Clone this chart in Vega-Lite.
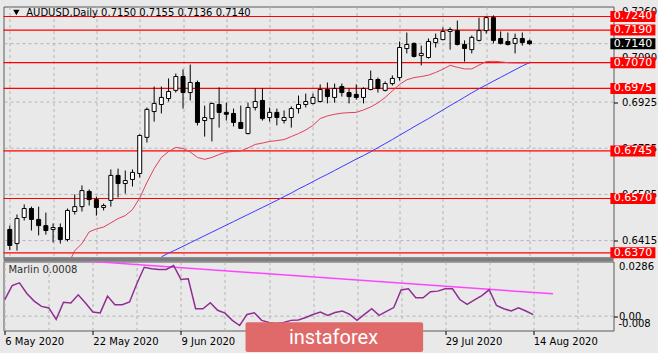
{
"$schema":"https://vega.github.io/schema/vega-lite/v6.json",
"padding":{"left":1.5,"top":5.5,"right":0,"bottom":0},
"background":"#e9e9e9",
"spacing":4,
"bounds":"flush",
"config":{"view":{"stroke":"#5a5a5a","fill":"#e9e9e9"},"axis":{"labelFont":"DejaVu Sans","labelFontSize":10,"labelColor":"#000000","tickColor":"#000000","domain":false,"title":null,"labelOverlap":false}},
"datasets":{
"bars":[
{"i":0,"o":0.6456,"h":0.6470,"l":0.6380,"c":0.6397,"m":0.0087},
{"i":1,"o":0.6404,"h":0.6511,"l":0.6378,"c":0.6496,"m":0.0160},
{"i":2,"o":0.6500,"h":0.6548,"l":0.6489,"c":0.6533,"m":0.0174},
{"i":3,"o":0.6533,"h":0.6540,"l":0.6452,"c":0.6493,"m":0.0119},
{"i":4,"o":0.6493,"h":0.6540,"l":0.6434,"c":0.6470,"m":0.0079},
{"i":5,"o":0.6470,"h":0.6518,"l":0.6437,"c":0.6452,"m":0.0051},
{"i":6,"o":0.6456,"h":0.6478,"l":0.6408,"c":0.6463,"m":0.0043},
{"i":7,"o":0.6463,"h":0.6478,"l":0.6404,"c":0.6419,"m":-0.0017},
{"i":8,"o":0.6419,"h":0.6533,"l":0.6412,"c":0.6526,"m":0.0073,"ma":0.6323},
{"i":9,"o":0.6522,"h":0.6585,"l":0.6511,"c":0.6540,"m":0.0069,"ma":0.6378},
{"i":10,"o":0.6540,"h":0.6618,"l":0.6522,"c":0.6599,"m":0.0112,"ma":0.6404},
{"i":11,"o":0.6596,"h":0.6603,"l":0.6544,"c":0.6566,"m":0.0069,"ma":0.6447},
{"i":12,"o":0.6566,"h":0.6577,"l":0.6507,"c":0.6537,"m":0.0022,"ma":0.6458},
{"i":13,"o":0.6537,"h":0.6551,"l":0.6526,"c":0.6544,"m":0.0017,"ma":0.6465},
{"i":14,"o":0.6563,"h":0.6677,"l":0.6540,"c":0.6655,"m":0.0105,"ma":0.6480},
{"i":15,"o":0.6655,"h":0.6680,"l":0.6574,"c":0.6625,"m":0.0060,"ma":0.6496},
{"i":16,"o":0.6625,"h":0.6673,"l":0.6588,"c":0.6636,"m":0.0060,"ma":0.6507},
{"i":17,"o":0.6640,"h":0.6677,"l":0.6614,"c":0.6666,"m":0.0074,"ma":0.6529},
{"i":18,"o":0.6662,"h":0.6806,"l":0.6647,"c":0.6802,"m":0.0171,"ma":0.6572},
{"i":19,"o":0.6795,"h":0.6905,"l":0.6776,"c":0.6898,"m":0.0256,"ma":0.6629},
{"i":20,"o":0.6890,"h":0.6982,"l":0.6853,"c":0.6920,"m":0.0248,"ma":0.6680},
{"i":21,"o":0.6916,"h":0.6982,"l":0.6883,"c":0.6942,"m":0.0244,"ma":0.6721,"mb":0.6355},
{"i":22,"o":0.6938,"h":0.7012,"l":0.6927,"c":0.6964,"m":0.0244,"ma":0.6743,"mb":0.6369},
{"i":23,"o":0.6968,"h":0.7030,"l":0.6960,"c":0.7019,"m":0.0265,"ma":0.6758,"mb":0.6381},
{"i":24,"o":0.7019,"h":0.7045,"l":0.6901,"c":0.6960,"m":0.0192,"ma":0.6754,"mb":0.6394},
{"i":25,"o":0.6960,"h":0.7063,"l":0.6931,"c":0.6997,"m":0.0196,"ma":0.6741,"mb":0.6407},
{"i":26,"o":0.6997,"h":0.7004,"l":0.6839,"c":0.6850,"m":0.0039,"ma":0.6721,"mb":0.6420},
{"i":27,"o":0.6857,"h":0.6912,"l":0.6798,"c":0.6868,"m":0.0039,"ma":0.6714,"mb":0.6433},
{"i":28,"o":0.6864,"h":0.6923,"l":0.6780,"c":0.6920,"m":0.0070,"ma":0.6721,"mb":0.6446},
{"i":29,"o":0.6916,"h":0.6979,"l":0.6831,"c":0.6887,"m":0.0031,"ma":0.6732,"mb":0.6459},
{"i":30,"o":0.6887,"h":0.6923,"l":0.6857,"c":0.6880,"m":0.0016,"ma":0.6741,"mb":0.6472},
{"i":31,"o":0.6883,"h":0.6901,"l":0.6835,"c":0.6850,"m":-0.0022,"ma":0.6743,"mb":0.6485},
{"i":32,"o":0.6850,"h":0.6912,"l":0.6826,"c":0.6828,"m":-0.0049,"ma":0.6745,"mb":0.6498},
{"i":33,"o":0.6809,"h":0.6923,"l":0.6806,"c":0.6905,"m":0.0009,"ma":0.6756,"mb":0.6511},
{"i":34,"o":0.6905,"h":0.6975,"l":0.6894,"c":0.6927,"m":0.0018,"ma":0.6769,"mb":0.6524},
{"i":35,"o":0.6931,"h":0.6975,"l":0.6857,"c":0.6864,"m":-0.0022,"ma":0.6774,"mb":0.6537},
{"i":36,"o":0.6868,"h":0.6905,"l":0.6853,"c":0.6887,"m":-0.0033,"ma":0.6780,"mb":0.6550},
{"i":37,"o":0.6887,"h":0.6901,"l":0.6839,"c":0.6868,"m":-0.0038,"ma":0.6783,"mb":0.6563},
{"i":38,"o":0.6857,"h":0.6894,"l":0.6846,"c":0.6868,"m":-0.0033,"ma":0.6787,"mb":0.6577},
{"i":39,"o":0.6868,"h":0.6909,"l":0.6831,"c":0.6901,"m":-0.0022,"ma":0.6798,"mb":0.6590},
{"i":40,"o":0.6901,"h":0.6949,"l":0.6883,"c":0.6916,"m":-0.0020,"ma":0.6809,"mb":0.6605},
{"i":41,"o":0.6916,"h":0.6956,"l":0.6905,"c":0.6927,"m":-0.0007,"ma":0.6822,"mb":0.6618},
{"i":42,"o":0.6920,"h":0.6956,"l":0.6916,"c":0.6942,"m":0.0009,"ma":0.6839,"mb":0.6632},
{"i":43,"o":0.6927,"h":0.6990,"l":0.6923,"c":0.6971,"m":0.0021,"ma":0.6864,"mb":0.6646},
{"i":44,"o":0.6971,"h":0.6997,"l":0.6920,"c":0.6945,"m":0.0004,"ma":0.6874,"mb":0.6659},
{"i":45,"o":0.6942,"h":0.6993,"l":0.6923,"c":0.6975,"m":0.0019,"ma":0.6880,"mb":0.6673},
{"i":46,"o":0.6982,"h":0.6993,"l":0.6945,"c":0.6960,"m":0.0027,"ma":0.6884,"mb":0.6687},
{"i":47,"o":0.6960,"h":0.6975,"l":0.6920,"c":0.6945,"m":0.0009,"ma":0.6886,"mb":0.6701},
{"i":48,"o":0.6953,"h":0.6990,"l":0.6934,"c":0.6942,"m":-0.0022,"ma":0.6887,"mb":0.6715},
{"i":49,"o":0.6942,"h":0.6979,"l":0.6920,"c":0.6975,"m":0.0009,"ma":0.6896,"mb":0.6728},
{"i":50,"o":0.6971,"h":0.7041,"l":0.6968,"c":0.7008,"m":0.0039,"ma":0.6907,"mb":0.6742},
{"i":51,"o":0.7008,"h":0.7015,"l":0.6960,"c":0.6975,"m":0.0004,"ma":0.6922,"mb":0.6757},
{"i":52,"o":0.6968,"h":0.7001,"l":0.6964,"c":0.6993,"m":0.0025,"ma":0.6942,"mb":0.6772},
{"i":53,"o":0.6993,"h":0.7023,"l":0.6986,"c":0.7012,"m":0.0045,"ma":0.6966,"mb":0.6787},
{"i":54,"o":0.7015,"h":0.7148,"l":0.7004,"c":0.7126,"m":0.0137,"ma":0.6990,"mb":0.6803},
{"i":55,"o":0.7122,"h":0.7181,"l":0.7104,"c":0.7137,"m":0.0143,"ma":0.7007,"mb":0.6818},
{"i":56,"o":0.7141,"h":0.7144,"l":0.7089,"c":0.7093,"m":0.0096,"ma":0.7015,"mb":0.6834},
{"i":57,"o":0.7096,"h":0.7133,"l":0.7060,"c":0.7104,"m":0.0096,"ma":0.7019,"mb":0.6849},
{"i":58,"o":0.7089,"h":0.7159,"l":0.7085,"c":0.7148,"m":0.0128,"ma":0.7024,"mb":0.6864},
{"i":59,"o":0.7144,"h":0.7177,"l":0.7126,"c":0.7159,"m":0.0131,"ma":0.7034,"mb":0.6880},
{"i":60,"o":0.7155,"h":0.7200,"l":0.7152,"c":0.7185,"m":0.0143,"ma":0.7046,"mb":0.6896},
{"i":61,"o":0.7185,"h":0.7200,"l":0.7118,"c":0.7192,"m":0.0143,"ma":0.7060,"mb":0.6912},
{"i":62,"o":0.7188,"h":0.7225,"l":0.7133,"c":0.7137,"m":0.0087,"ma":0.7053,"mb":0.6927},
{"i":63,"o":0.7137,"h":0.7152,"l":0.7074,"c":0.7122,"m":0.0062,"ma":0.7047,"mb":0.6943},
{"i":64,"o":0.7118,"h":0.7170,"l":0.7104,"c":0.7163,"m":0.0085,"ma":0.7047,"mb":0.6959},
{"i":65,"o":0.7152,"h":0.7236,"l":0.7148,"c":0.7188,"m":0.0108,"ma":0.7061,"mb":0.6974},
{"i":66,"o":0.7188,"h":0.7240,"l":0.7177,"c":0.7236,"m":0.0138,"ma":0.7074,"mb":0.6988},
{"i":67,"o":0.7236,"h":0.7244,"l":0.7141,"c":0.7152,"m":0.0056,"ma":0.7075,"mb":0.7002},
{"i":68,"o":0.7159,"h":0.7185,"l":0.7137,"c":0.7141,"m":0.0039,"ma":0.7073,"mb":0.7016},
{"i":69,"o":0.7148,"h":0.7181,"l":0.7133,"c":0.7137,"m":0.0027,"ma":0.7070,"mb":0.7030},
{"i":70,"o":0.7141,"h":0.7177,"l":0.7104,"c":0.7159,"m":0.0044,"ma":0.7069,"mb":0.7044},
{"i":71,"o":0.7159,"h":0.7181,"l":0.7133,"c":0.7144,"m":0.0027,"ma":0.7069,"mb":0.7058},
{"i":72,"o":0.7150,"h":0.7155,"l":0.7136,"c":0.7140,"m":0.0008,"ma":0.7069,"mb":0.7070}
],
"levels":[{"p":0.724,"k":"r"},{"p":0.719,"k":"r"},{"p":0.707,"k":"r"},{"p":0.6975,"k":"r"},{"p":0.6745,"k":"r"},{"p":0.657,"k":"r"},{"p":0.637,"k":"r"},{"p":0.714,"k":"b"}],
"hgrid":[{"p":0.6415},{"p":0.6585},{"p":0.6755},{"p":0.6925},{"p":0.714}],
"trend":[{"i":10.2,"v":0.0291},{"i":74.7,"v":0.0117}]
},
"vconcat":[
{
"width":610,"height":251,
"layer":[
{"data":{"name":"hgrid"},"mark":{"type":"rule","stroke":"#b4b4b4","strokeDash":[3,3],"strokeWidth":1},
 "encoding":{"y":{"field":"p","type":"quantitative","scale":{"domain":[0.63527,0.72768],"nice":false,"zero":false},
  "axis":{"orient":"right","values":[0.6415,0.6585,0.6755,0.6925,0.709,0.726],"format":".4f","grid":false,"ticks":true,"tickSize":4,"labelPadding":4,"labelOverlap":false,"labelBound":false}}}},
{"data":{"name":"levels"},"transform":[{"filter":"datum.k == 'r'"}],"mark":{"type":"rule","stroke":"#ff0000","strokeWidth":1.2},
 "encoding":{"y":{"field":"p","type":"quantitative","scale":{"domain":[0.63527,0.72768],"nice":false,"zero":false}}}},
{"data":{"name":"bars"},"mark":{"type":"line","stroke":"#3a3aff","strokeWidth":1,"clip":true},
 "encoding":{"x":{"field":"i","type":"quantitative","scale":{"domain":[-0.177,82.94],"nice":false,"zero":false},
  "axis":{"values":[0,6,12,18,24,30,36,42,48,54,60,66,72,78],"grid":true,"gridColor":"#b4b4b4","gridDash":[3,3],"labels":false,"ticks":false}},
  "y":{"field":"mb","type":"quantitative","scale":{"domain":[0.63527,0.72768],"nice":false,"zero":false}}}},
{"data":{"name":"bars"},"mark":{"type":"line","stroke":"#e0405c","strokeWidth":1,"clip":true},
 "encoding":{"x":{"field":"i","type":"quantitative","scale":{"domain":[-0.177,82.94],"nice":false,"zero":false}},
  "y":{"field":"ma","type":"quantitative","scale":{"domain":[0.63527,0.72768],"nice":false,"zero":false}}}},
{"data":{"name":"bars"},"mark":{"type":"rule","stroke":"#000000","strokeWidth":1,"clip":true},
 "encoding":{"x":{"field":"i","type":"quantitative","scale":{"domain":[-0.177,82.94],"nice":false,"zero":false}},
  "y":{"field":"l","type":"quantitative","scale":{"domain":[0.63527,0.72768],"nice":false,"zero":false}},"y2":{"field":"h"}}},
{"data":{"name":"bars"},"mark":{"type":"bar","size":4,"stroke":"#000000","strokeWidth":1,"clip":true},
 "encoding":{"x":{"field":"i","type":"quantitative","scale":{"domain":[-0.177,82.94],"nice":false,"zero":false}},
  "y":{"field":"o","type":"quantitative","scale":{"domain":[0.63527,0.72768],"nice":false,"zero":false}},"y2":{"field":"c"},
  "fill":{"condition":{"test":"datum.c >= datum.o","value":"#ffffff"},"value":"#000000"}}},
{"data":{"name":"levels"},"mark":{"type":"point","shape":"M-1,-0.2444H1V0.2444H-1Z","size":2025,"filled":true,"opacity":1,"strokeWidth":0,"clip":false},
 "encoding":{"x":{"datum":86.32,"type":"quantitative"},"y":{"field":"p","type":"quantitative","scale":{"domain":[0.63527,0.72768],"nice":false,"zero":false}},
  "fill":{"condition":{"test":"datum.k == 'b'","value":"#000000"},"value":"#ff0000"}}},
{"data":{"name":"levels"},"mark":{"type":"text","align":"center","baseline":"middle","font":"DejaVu Sans","fontSize":11,"fill":"#ffffff","clip":false},
 "encoding":{"x":{"datum":86.32,"type":"quantitative"},"y":{"field":"p","type":"quantitative","scale":{"domain":[0.63527,0.72768],"nice":false,"zero":false}},
  "text":{"field":"p","type":"quantitative","format":".4f"}}},
{"data":{"values":[{}]},"mark":{"type":"point","shape":"triangle-down","filled":true,"fill":"#000000","size":40,"opacity":1,"clip":false},
 "encoding":{"x":{"datum":0.91,"type":"quantitative"},"y":{"datum":0.72547,"type":"quantitative"}}},
{"data":{"values":[{}]},"mark":{"type":"text","text":"AUDUSD,Daily  0.7150 0.7155 0.7136 0.7140","align":"left","baseline":"middle","font":"DejaVu Sans","fontSize":10,"fill":"#000000","clip":false},
 "encoding":{"x":{"datum":2.28,"type":"quantitative"},"y":{"datum":0.72536,"type":"quantitative"}}}
]
},
{
"width":610,"height":69,
"layer":[
{"data":{"values":[{}]},"mark":{"type":"rect","fill":"#7d7d7d","clip":false},
 "encoding":{"x":{"datum":-0.177,"type":"quantitative","scale":{"domain":[-0.177,82.94],"nice":false,"zero":false}},"x2":{"datum":82.94},
  "y":{"datum":0.0286,"type":"quantitative","scale":{"domain":[-0.0075,0.0286],"nice":false,"zero":false}},"y2":{"datum":0.0307}}},
{"data":{"values":[{}]},"mark":{"type":"rule","stroke":"#b4b4b4","strokeDash":[3,3],"strokeWidth":1},
 "encoding":{"y":{"datum":0,"type":"quantitative","scale":{"domain":[-0.0075,0.0286],"nice":false,"zero":false}}}},
{"data":{"name":"trend"},"mark":{"type":"line","stroke":"#ff44ff","strokeWidth":1.5,"clip":true},
 "encoding":{"x":{"field":"i","type":"quantitative","scale":{"domain":[-0.177,82.94],"nice":false,"zero":false}},
  "y":{"field":"v","type":"quantitative","scale":{"domain":[-0.0075,0.0286],"nice":false,"zero":false}}}},
{"data":{"name":"bars"},"mark":{"type":"line","stroke":"#902e92","strokeWidth":1.5,"clip":true},
 "encoding":{"x":{"field":"i","type":"quantitative","scale":{"domain":[-0.177,82.94],"nice":false,"zero":false},
  "axis":{"values":[0,6,12,18,24,30,36,42,48,54,60,66,72,78],"grid":true,"gridColor":"#b4b4b4","gridDash":[3,3],
   "labelExpr":"['6 May 2020','','22 May 2020','','9 Jun 2020','','25 Jun 2020','','13 Jul 2020','','29 Jul 2020','','14 Aug 2020',''][round(datum.value/6)]",
   "labelAlign":"left","labelBaseline":"top","labelFlush":false,"labelOverlap":false,"labelBound":false,"tickSize":4,"labelPadding":2,
   "tickOpacity":{"condition":{"test":"datum.value % 12 == 0","value":1},"value":0}}},
  "y":{"field":"m","type":"quantitative","scale":{"domain":[-0.0075,0.0286],"nice":false,"zero":false},
   "axis":{"orient":"right","values":[0,0.0286],"grid":false,"tickSize":4,"labelPadding":1,"labelOverlap":false,"labelBound":false,
    "labelExpr":"datum.value == 0 ? '0.00' : '0.0286'",
    "labelBaseline":{"condition":{"test":"datum.value > 0.01","value":"top"},"value":"middle"},
    "tickOpacity":{"condition":{"test":"datum.value == 0","value":1},"value":0}}}}},
{"data":{"values":[{}]},"mark":{"type":"text","text":"-0.008","align":"left","baseline":"middle","font":"DejaVu Sans","fontSize":10,"fill":"#000000","clip":false},
 "encoding":{"x":{"datum":83.62,"type":"quantitative"},"y":{"datum":-0.004,"type":"quantitative"}}},
{"data":{"values":[{}]},"mark":{"type":"text","text":"Marlin 0.0008","align":"left","baseline":"middle","font":"DejaVu Sans","fontSize":10,"fill":"#303030","clip":false},
 "encoding":{"x":{"datum":0.5,"type":"quantitative"},"y":{"datum":0.0239,"type":"quantitative"}}},
{"data":{"values":[{}]},"mark":{"type":"rect","fill":"#e06a6a","cornerRadius":2,"clip":false},
 "encoding":{"x":{"datum":32.8,"type":"quantitative"},"x2":{"datum":57.0},"y":{"datum":-0.00314,"type":"quantitative"},"y2":{"datum":-0.0188}}},
{"data":{"values":[{}]},"mark":{"type":"text","text":"instaforex","align":"center","baseline":"alphabetic","font":"Roboto","fontSize":20,"fill":"#ffffff","clip":false},
 "encoding":{"x":{"datum":44.79,"type":"quantitative"},"y":{"datum":-0.0148,"type":"quantitative"}}}
]
}
]
}
